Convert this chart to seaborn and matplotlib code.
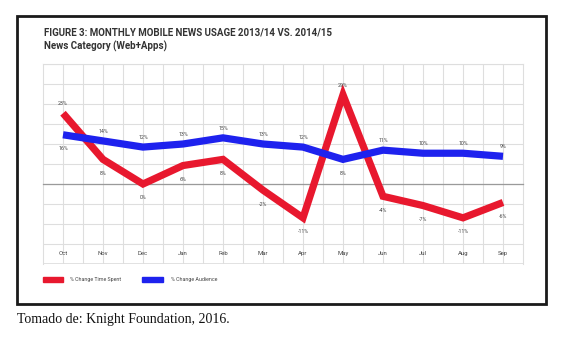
import matplotlib
matplotlib.use("Agg")
import matplotlib.pyplot as plt
import seaborn as sns
import pandas as pd
import numpy as np
from matplotlib.patches import Rectangle

months = ["Oct", "Nov", "Dec", "Jan", "Feb", "Mar", "Apr", "May", "Jun", "Jul", "Aug", "Sep"]
time_spent = [23, 8, 0, 6, 8, -2, -11, 29, -4, -7, -11, -6]
audience = [16, 14, 12, 13, 15, 13, 12, 8, 11, 10, 10, 9]
series_names = ["% Change Time Spent", "% Change Audience"]

RED = "#E8182E"
BLUE = "#1E22EE"

sns.set_style("white")
plt.rcParams["font.family"] = ["Roboto", "DejaVu Sans"]

W, H = 565, 338
fig = plt.figure(figsize=(W / 100, H / 100), dpi=100)

# outer frame
fig.patches.append(Rectangle((17 / W, 1 - 304 / H), (546 - 17) / W, (304 - 16) / H,
                             transform=fig.transFigure, fill=False, edgecolor="#1a1a1a",
                             linewidth=2.0))

ax = fig.add_axes([43 / W, 1 - 264 / H, 480 / W, 200 / H])

df = pd.DataFrame({
    "month": months * 2,
    "x": list(range(len(months))) * 2,
    "value": time_spent + audience,
    "series": [series_names[0]] * len(months) + [series_names[1]] * len(months),
})

sns.lineplot(data=df, x="x", y="value", hue="series", palette=[RED, BLUE],
             linewidth=5.2, ax=ax, legend=False, sort=False, zorder=3)
for ln in ax.lines:
    ln.set_solid_joinstyle("miter")
    ln.set_solid_capstyle("butt")

step = 6.5
ax.set_xlim(-0.5, 11.5)
ax.set_ylim(-4 * step, 6 * step)
ax.set_yticks(np.arange(-4, 7) * step)
ax.set_xticks(range(len(months)))
ax.set_xticks(np.arange(0.5, 11, 1), minor=True)
ax.set_xticklabels(months)
ax.set_yticklabels([])
ax.set_xlabel("")
ax.set_ylabel("")
ax.grid(True, which="both", color="#dedede", linewidth=0.8, zorder=0)
ax.set_axisbelow(True)

ax.spines["bottom"].set_position(("data", 0))
ax.spines["bottom"].set_color("#9a9a9a")
ax.spines["bottom"].set_linewidth(0.9)
for s in ["left", "right", "top"]:
    ax.spines[s].set_color("#dedede")
    ax.spines[s].set_linewidth(0.8)
ax.tick_params(axis="x", which="major", length=0, pad=48, labelsize=4.3, labelcolor="#444444")
ax.tick_params(axis="x", which="minor", length=5, width=0.8, color="#9a9a9a", direction="out")
ax.tick_params(axis="y", length=0)
# bottom boundary line
ax.axhline(-4 * step, color="#dedede", linewidth=1.2, zorder=0)

# value labels
for i in range(len(months)):
    r, b = time_spent[i], audience[i]
    r_above = r > b
    ax.annotate(f"{r}%", (i, r), xytext=(0, 7 if r_above else -10), textcoords="offset points",
                ha="center", va="center", fontsize=3.8, color="#444444")
    ax.annotate(f"{b}%", (i, b), xytext=(0, -10 if r_above else 7), textcoords="offset points",
                ha="center", va="center", fontsize=3.8, color="#444444")

# titles
fig.text(44 / W, 1 - 33 / H, "FIGURE 3: MONTHLY MOBILE NEWS USAGE 2013/14 VS. 2014/15",
         fontsize=7.0, fontweight="bold", color="#333333", va="center", ha="left")
fig.text(44 / W, 1 - 46 / H, "News Category (Web+Apps)",
         fontsize=7.0, fontweight="bold", color="#333333", va="center", ha="left")

# legend
fig.patches.append(Rectangle((43 / W, 1 - 282 / H), 20 / W, 5 / H, transform=fig.transFigure,
                             color=RED))
fig.text(70 / W, 1 - 280 / H, series_names[0], fontsize=3.8, color="#444444", va="center")
fig.patches.append(Rectangle((142 / W, 1 - 282 / H), 21 / W, 5 / H, transform=fig.transFigure,
                             color=BLUE))
fig.text(171 / W, 1 - 280 / H, series_names[1], fontsize=3.8, color="#444444", va="center")

# caption
fig.text(17 / W, 1 - 320 / H, "Tomado de: Knight Foundation, 2016.",
         fontsize=10.0, family="Liberation Serif", color="#111111", va="center")

fig.savefig("out.png", dpi=100, facecolor="white")
